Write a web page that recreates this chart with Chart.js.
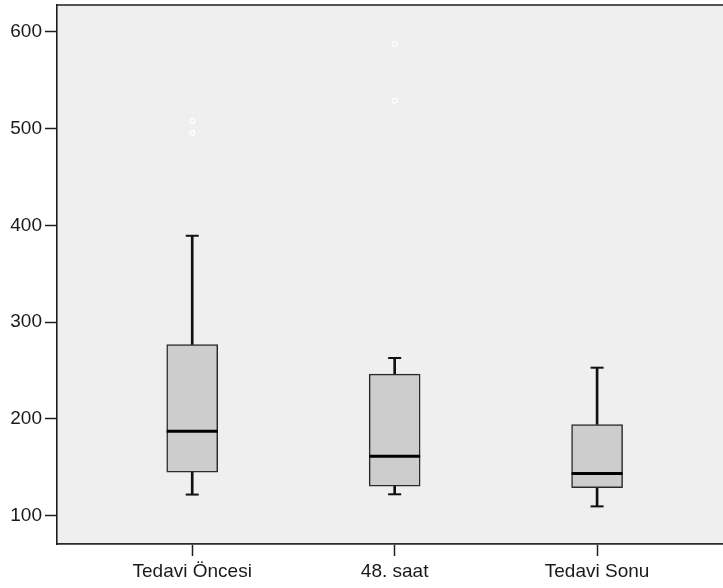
<!DOCTYPE html>
<html>
<head>
<meta charset="utf-8">
<script src="https://cdn.jsdelivr.net/npm/chart.js@4"></script>
<style>
  html, body { margin: 0; padding: 0; background: #ffffff; }
  canvas { display: block; }
</style>
</head>
<body>
<canvas id="chart" width="723" height="588"></canvas>
<script>
// Box plot summary per group
const categories = ['Tedavi Öncesi', '48. saat', 'Tedavi Sonu'];
const whiskerLow  = [121.6, 121.9, 109.4];
const q1          = [144.7, 130.2, 128.8];
const median      = [187.2, 161.3, 143.3];
const q3          = [276.7, 246.2, 194.1];
const whiskerHigh = [389.2, 262.8, 252.8];
// Outliers: group index and value
const outlierGroup = [0, 0, 1, 1];
const outlierValue = [507.8, 495.6, 528.8, 587.2];
const yTicks = [100, 200, 300, 400, 500, 600];

const pos = categories.map((_, i) => i + 1);

const boxData = pos.map((x, i) => ({ x, y: [q1[i], q3[i]] }));
const upperWhisker = pos.map((x, i) => ({ x, y: [q3[i], whiskerHigh[i]] }));
const lowerWhisker = pos.map((x, i) => ({ x, y: [whiskerLow[i], q1[i]] }));
const capData = pos.flatMap((x, i) => [{ x, y: whiskerHigh[i] }, { x, y: whiskerLow[i] }]);
const medianData = pos.map((x, i) => ({ x, y: median[i] }));
const outlierData = outlierGroup.map((g, i) => ({ x: g + 1, y: outlierValue[i] }));

const font = { family: '"Liberation Sans", Arial, sans-serif', size: 19 };

const plotFrame = {
  id: 'plotFrame',
  beforeDraw(chart) {
    const { ctx, chartArea: a } = chart;
    ctx.save();
    ctx.fillStyle = '#efefef';
    ctx.fillRect(a.left, a.top, a.right - a.left, a.bottom - a.top);
    ctx.restore();
  },
  afterDraw(chart) {
    const { ctx, chartArea: a } = chart;
    ctx.save();
    ctx.strokeStyle = '#1e1e1e';
    ctx.lineWidth = 1.6;
    ctx.beginPath();
    ctx.moveTo(a.left, a.top);
    ctx.lineTo(a.right, a.top);
    ctx.stroke();
    ctx.restore();
  }
};

new Chart(document.getElementById('chart'), {
  type: 'bar',
  data: {
    datasets: [
      {
        type: 'scatter', data: medianData, order: 0,
        pointStyle: 'line', pointRadius: 25.5, borderColor: '#000000', borderWidth: 3
      },
      {
        type: 'scatter', data: outlierData, order: 0,
        pointStyle: 'circle', pointRadius: 2.4, borderColor: '#ffffff',
        backgroundColor: 'rgba(0,0,0,0)', borderWidth: 1.2
      },
      {
        type: 'bar', data: boxData, order: 1, grouped: false,
        barThickness: 51, backgroundColor: '#cdcdcd',
        borderColor: '#2a2a2a', borderWidth: 1.5, borderSkipped: false
      },
      {
        type: 'bar', data: upperWhisker, order: 2, grouped: false,
        barThickness: 2, backgroundColor: '#111111', borderWidth: 0
      },
      {
        type: 'bar', data: lowerWhisker, order: 2, grouped: false,
        barThickness: 2, backgroundColor: '#111111', borderWidth: 0
      },
      {
        type: 'scatter', data: capData, order: 2,
        pointStyle: 'line', pointRadius: 6.5, borderColor: '#111111', borderWidth: 2
      }
    ]
  },
  options: {
    responsive: false,
    animation: false,
    events: [],
    layout: { autoPadding: false, padding: { top: 5, right: 0, bottom: 0, left: 0 } },
    plugins: { legend: { display: false }, tooltip: { enabled: false } },
    scales: {
      x: {
        type: 'linear',
        min: 0.332,
        max: 3.622,
        offset: false,
        afterBuildTicks(scale) { scale.ticks = pos.map(v => ({ value: v })); },
        afterFit(scale) {
          scale.height = 44;
          scale.paddingLeft = 0; scale.paddingRight = 0;
        },
        ticks: {
          autoSkip: false,
          maxRotation: 0,
          padding: 4,
          color: '#1a1a1a',
          font,
          callback: (v) => categories[Math.round(v) - 1] ?? ''
        },
        grid: {
          offset: false,
          drawOnChartArea: false, drawTicks: true, tickLength: 12,
          tickColor: '#1e1e1e', tickWidth: 1.5
        },
        border: { display: true, color: '#2a2a2a', width: 1.8 }
      },
      y: {
        type: 'linear',
        min: 70.5,
        max: 627.8,
        afterBuildTicks(scale) { scale.ticks = yTicks.map(v => ({ value: v })); },
        afterFit(scale) {
          scale.width = 57;
          scale.paddingTop = 0; scale.paddingBottom = 0;
        },
        ticks: { padding: 3, color: '#1a1a1a', font },
        grid: {
          drawOnChartArea: false, drawTicks: true, tickLength: 12,
          tickColor: '#1e1e1e', tickWidth: 1.5
        },
        border: { display: true, color: '#1e1e1e', width: 1.6 }
      }
    }
  },
  plugins: [plotFrame]
});
</script>
</body>
</html>
